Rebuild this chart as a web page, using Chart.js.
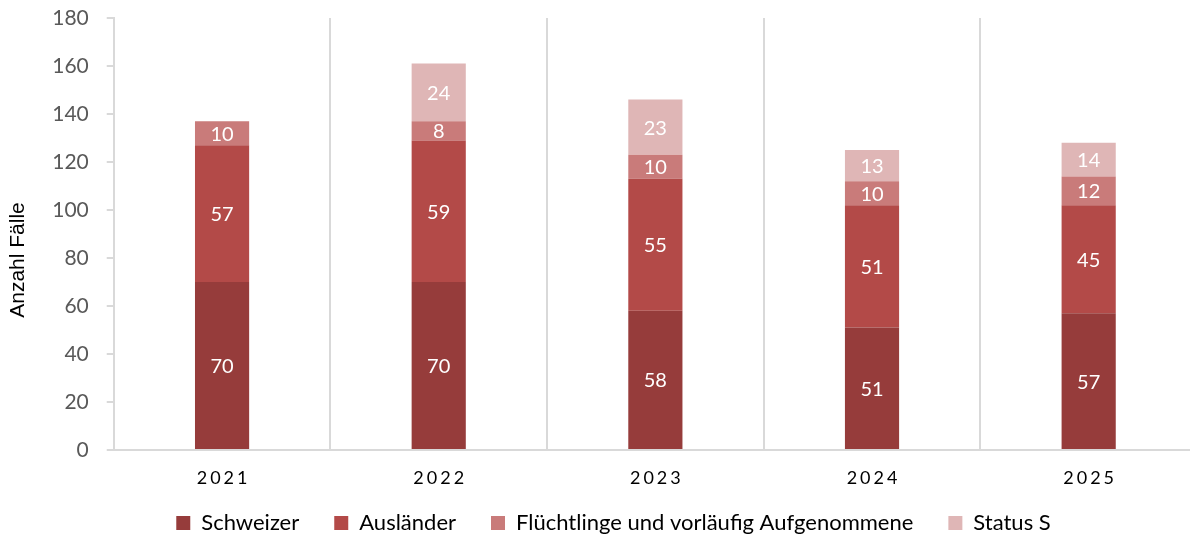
<!DOCTYPE html>
<html>
<head>
<meta charset="utf-8">
<script src="https://cdn.jsdelivr.net/npm/chart.js@4/dist/chart.umd.min.js"></script>
<style>
  html, body { margin: 0; padding: 0; background: #fff; overflow: hidden; }
  #wrap { width: 1197px; height: 541px; position: relative; }
</style>
</head>
<body>
<div id="wrap"><canvas id="faelle"></canvas></div>
<script>
// Werte aus der Grafik
var jahre = ['2021', '2022', '2023', '2024', '2025'];
var schweizer = [70, 70, 58, 51, 57];
var auslaender = [57, 59, 55, 51, 45];
var fluechtlinge = [10, 8, 10, 10, 12];
var statusS = [0, 24, 23, 13, 14];
var yTicks = [0, 20, 40, 60, 80, 100, 120, 140, 160, 180];

var schrift = 'Lato, "Open Sans", sans-serif';
var titelSchrift = '"Liberation Sans", Arial, sans-serif';

// weisse Zahlen in den Balken
var balkenLabels = {
    id: 'balkenLabels',
    afterDatasetsDraw: function(chart) {
        var ctx = chart.ctx;
        ctx.save();
        ctx.fillStyle = '#ffffff';
        ctx.font = '20px ' + schrift;
        ctx.textAlign = 'center';
        ctx.textBaseline = 'middle';
        chart.data.datasets.forEach(function(ds, i) {
            var meta = chart.getDatasetMeta(i);
            meta.data.forEach(function(bar, j) {
                var v = ds.data[j];
                if (!v) return;
                ctx.fillText(String(v), bar.x, (bar.y + bar.base) / 2 + 1);
            });
        });
        ctx.restore();
    }
};

// Jahreszahlen mit Sperrung + Achsentitel etwas tiefer
var achsenText = {
    id: 'achsenText',
    afterDraw: function(chart) {
        var ctx = chart.ctx;
        var xs = chart.scales.x;
        ctx.save();
        ctx.fillStyle = '#000000';
        ctx.font = '18px ' + schrift;
        ctx.textAlign = 'center';
        ctx.textBaseline = 'middle';
        ctx.letterSpacing = '3px';
        jahre.forEach(function(j, i) {
            ctx.fillText(j, xs.getPixelForValue(i) + 1.5, xs.top + 28);
        });
        ctx.restore();

        ctx.save();
        ctx.translate(18, 260);
        ctx.rotate(-Math.PI / 2);
        ctx.fillStyle = '#000000';
        ctx.font = '21px ' + titelSchrift;
        ctx.textAlign = 'center';
        ctx.textBaseline = 'middle';
        ctx.fillText('Anzahl Fälle', 0, 0);
        ctx.restore();
    }
};

// Legende naeher an die Achse und etwas nach rechts
var legendeKnapp = {
    id: 'legendeKnapp',
    afterInit: function(chart) {
        var lg = chart.legend;
        if (!lg) return;
        var orig = lg.fit;
        lg.fit = function() {
            orig.call(this);
            this.height = 64;
        };
    },
    afterLayout: function(chart) {
        var lg = chart.legend;
        if (!lg) return;
        lg.left += 15;
        lg.right += 15;
    }
};

var ctx = document.getElementById('faelle').getContext('2d');
var chart = new Chart(ctx, {
    type: 'bar',
    data: {
        labels: jahre,
        datasets: [
            { label: 'Schweizer', data: schweizer, backgroundColor: '#963C3B' },
            { label: 'Ausländer', data: auslaender, backgroundColor: '#B34A48' },
            { label: 'Flüchtlinge und vorläufig Aufgenommene', data: fluechtlinge, backgroundColor: '#C97B7A' },
            { label: 'Status S', data: statusS, backgroundColor: '#DFB6B6' }
        ]
    },
    options: {
        responsive: true,
        maintainAspectRatio: false,
        animation: false,
        layout: { padding: { top: 18, right: 0, left: 0, bottom: 0 } },
        datasets: { bar: { barPercentage: 1, categoryPercentage: 0.25 } },
        scales: {
            x: {
                stacked: true,
                offset: true,
                grid: { offset: true, color: '#D9D9D9', lineWidth: 2, drawTicks: false },
                border: { display: true, color: '#D9D9D9', width: 2 },
                ticks: { display: false },
                afterFit: function(scale) { scale.height = 27; }
            },
            y: {
                stacked: true,
                min: 0,
                max: 180,
                afterBuildTicks: function(axis) {
                    axis.ticks = yTicks.map(function(v) { return { value: v }; });
                },
                afterFit: function(scale) { scale.paddingTop = 0; scale.paddingBottom = 0; },
                grid: { drawOnChartArea: false, drawTicks: true, tickLength: 7, color: '#D9D9D9', lineWidth: 2 },
                border: { display: true, color: '#D9D9D9', width: 2 },
                ticks: { color: '#595959', font: { family: schrift, size: 21 }, padding: 18 },
                title: {
                    display: true,
                    text: 'Anzahl Fälle',
                    color: 'rgba(0,0,0,0)',
                    font: { family: titelSchrift, size: 21 },
                    padding: { top: 6, bottom: 3 }
                }
            }
        },
        plugins: {
            legend: {
                position: 'bottom',
                labels: {
                    color: '#000000',
                    font: { family: schrift, size: 22 },
                    boxWidth: 14,
                    boxHeight: 14,
                    padding: 35
                }
            },
            tooltip: { enabled: false }
        }
    },
    plugins: [balkenLabels, achsenText, legendeKnapp]
});
</script>
</body>
</html>
